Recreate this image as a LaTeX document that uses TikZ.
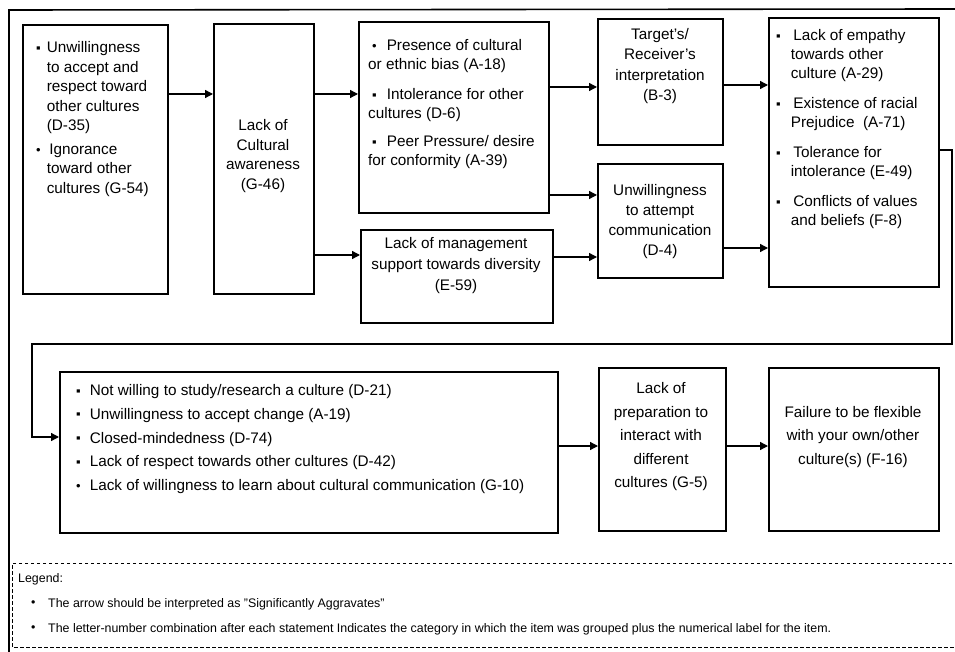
\documentclass[tikz,border=0pt]{standalone}
\usepackage{fontspec}
\setmainfont{Liberation Sans}
\usetikzlibrary{arrows.meta}
\newcommand\sqb{\raisebox{0.3pt}{\scalebox{0.85}{▪}}}
\newcommand\rdb{\raisebox{0.3pt}{\scalebox{0.85}{•}}}
\begin{document}
\begin{tikzpicture}[x=1pt,y=-1pt,
  boxst/.style={draw, line width=2.3pt, inner sep=0pt},
  txt/.style={inner sep=0pt, font=\fontsize{15.3}{19}\selectfont},
  ctxt/.style={txt, align=center},
  conn/.style={line width=1.3pt, -{Triangle[length=8pt,width=8pt]}},
  frame/.style={line width=1.6pt},
  legbox/.style={line width=0.7pt, dash pattern=on 3.5pt off 2.5pt},
  legtxt/.style={inner sep=0pt, anchor=west, font=\fontsize{12.4}{14}\selectfont}
]
\useasboundingbox (0,0) rectangle (955,652);
\fill[white] (0,0) rectangle (955,652);

% outer frame
\draw[frame] (9,652) -- (9,10) -- (956,9);

% boxes
\node[boxst, minimum width=145pt, minimum height=269pt, anchor=north west] (b1) at (22,24) {};
\node[boxst, minimum width=100pt, minimum height=270pt, anchor=north west] (b2) at (213,23) {};
\node[boxst, minimum width=190pt, minimum height=191pt, anchor=north west] (b3) at (358,21) {};
\node[boxst, minimum width=192pt, minimum height=93pt, anchor=north west] (b4) at (360,229) {};
\node[boxst, minimum width=125pt, minimum height=126pt, anchor=north west] (b5) at (597,18) {};
\node[boxst, minimum width=125pt, minimum height=114pt, anchor=north west] (b6) at (597,163) {};
\node[boxst, minimum width=170pt, minimum height=269pt, anchor=north west] (b7) at (768,17) {};
\node[boxst, minimum width=498pt, minimum height=161pt, anchor=north west] (b8) at (59,371) {};
\node[boxst, minimum width=127pt, minimum height=163pt, anchor=north west] (b9) at (598,367) {};
\node[boxst, minimum width=170pt, minimum height=163pt, anchor=north west] (b10) at (768,367) {};

% texts
\node[txt, anchor=north west, font=\fontsize{15.3}{19.5}\selectfont] (t1) at (36,39) {\begin{tabular}{@{}l@{\hspace{6pt}}l@{}}
\sqb & Unwillingness\\ & to accept and\\ & respect toward\\ & other cultures\\ & (D-35)\\[4pt]
\rdb & \,Ignorance\\ & toward other\\ & cultures (G-54)
\end{tabular}};

\node[ctxt, font=\fontsize{15.3}{19.5}\selectfont] (t2) at (263,156) {Lack of\\Cultural\\awareness\\(G-46)};

\node[txt, anchor=north west] (t3) at (368,37) {\begin{tabular}{@{}l@{}}
\hspace{4pt}\rdb\hspace{10pt}Presence of cultural\\ or ethnic bias (A-18)\\[11pt]
\hspace{4pt}\sqb\hspace{10pt}Intolerance for other\\ cultures (D-6)\\[9pt]
\hspace{4pt}\sqb\hspace{10pt}Peer Pressure/ desire\\ for conformity (A-39)
\end{tabular}};

\node[ctxt, font=\fontsize{15.3}{21}\selectfont] (t4) at (456,266) {Lack of management\\support towards diversity\\(E-59)};

\node[ctxt, font=\fontsize{15.3}{20.5}\selectfont] (t5) at (660,66) {Target's/\\Receiver's\\interpretation\\(B-3)};

\node[ctxt, font=\fontsize{15.3}{20}\selectfont] (t6) at (660,222) {Unwillingness\\to attempt\\communication\\(D-4)};

\node[txt, anchor=north west] (t7) at (776,27) {\begin{tabular}{@{}l@{\hspace{10pt}}l@{}}
\sqb & \,Lack of empathy\\ & towards other\\ & culture (A-29)\\[11pt]
\sqb & \,Existence of racial\\ & Prejudice\ \ (A-71)\\[11pt]
\sqb & \,Tolerance for\\ & intolerance (E-49)\\[11pt]
\sqb & \,Conflicts of values\\ & and beliefs (F-8)
\end{tabular}};

\node[txt, anchor=north west] (t8) at (76,382) {\begin{tabular}{@{}l@{\hspace{9pt}}l@{}}
\sqb & Not willing to study/research a culture (D-21)\\[4.75pt]
\sqb & Unwillingness to accept change (A-19)\\[4.75pt]
\sqb & Closed-mindedness (D-74)\\[4.75pt]
\sqb & Lack of respect towards other cultures (D-42)\\[4.75pt]
\rdb & Lack of willingness to learn about cultural communication (G-10)
\end{tabular}};

\node[ctxt, font=\fontsize{15.3}{23.5}\selectfont] (t9) at (661,437) {Lack of\\preparation to\\interact with\\different\\cultures (G-5)};

\node[ctxt, font=\fontsize{15.3}{23.5}\selectfont] (t10) at (853,437) {Failure to be flexible\\with your own/other\\culture(s) (F-16)};

% level coordinates
\coordinate (y94) at (0,94);
\coordinate (y87) at (0,87);
\coordinate (y195) at (0,195);
\coordinate (y255) at (0,255);
\coordinate (y257) at (0,257);
\coordinate (y85) at (0,85);
\coordinate (y248) at (0,248);
\coordinate (y150) at (0,150);
\coordinate (y437) at (0,437);
\coordinate (y446) at (0,446);
\coordinate (r1) at (952,344);
\coordinate (l1) at (32,344);

% connectors
\draw[conn] (b1.east |- y94) -- (b2.west |- y94);
\draw[conn] (b2.east |- y94) -- (b3.west |- y94);
\draw[conn] (b2.east |- y255) -- (b4.west |- y255);
\draw[conn] (b3.east |- y87) -- (b5.west |- y87);
\draw[conn] (b3.east |- y195) -- (b6.west |- y195);
\draw[conn] (b4.east |- y257) -- (b6.west |- y257);
\draw[conn] (b5.east |- y85) -- (b7.west |- y85);
\draw[conn] (b6.east |- y248) -- (b7.west |- y248);
\draw[conn] (b7.east |- y150) -| (r1) -- (l1) |- (b8.west |- y437);
\draw[conn] (b8.east |- y446) -- (b9.west |- y446);
\draw[conn] (b9.east |- y446) -- (b10.west |- y446);

% legend
\draw[legbox] (958,563) -- (12,563) -- (12,647) -- (958,647);
\node[legtxt] (lg) at (18,579) {Legend:};
\node[legtxt] (lb1) at (31,604) {•};
\node[legtxt] (lt1) at (48,604) {The arrow should be interpreted as "Significantly Aggravates"};
\node[legtxt] (lb2) at (31,629) {•};
\node[legtxt] (lt2) at (48,629) {The letter-number combination after each statement Indicates the category in which the item was grouped plus the numerical label for the item.};
\end{tikzpicture}
\end{document}
